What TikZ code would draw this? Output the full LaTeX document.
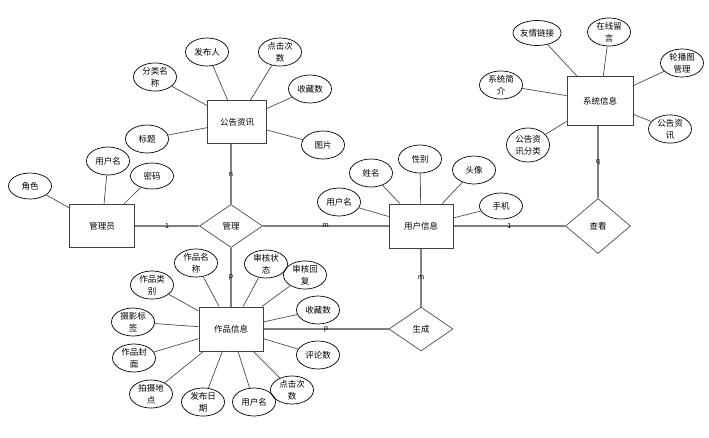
\documentclass[tikz,border=0pt]{standalone}
\usepackage{fontspec}
\setmainfont{Noto Sans CJK SC}
\usetikzlibrary{shapes.geometric}

\begin{document}
\begin{tikzpicture}[x=1pt, y=-1pt,
  every node/.style={inner sep=0pt, font=\fontsize{8.5}{12}\selectfont, align=center},
  entity/.style={draw=black!75, line width=1pt, minimum width=64pt, minimum height=44pt},
  rel/.style={diamond, draw=black!70, line width=0.7pt, minimum width=64pt, minimum height=44pt},
  attr/.style={ellipse, draw=black, line width=0.7pt, minimum width=43pt, minimum height=28pt},
  link/.style={draw=black!50, line width=1.4pt},
  att/.style={draw=black!70, line width=0.7pt},
  card/.style={font=\fontsize{7}{8}\selectfont}]
\useasboundingbox (0,0) rectangle (709,437);

% entities and relations
\node[entity, minimum width=65pt, minimum height=43pt] (admin) at (102,226) {管理员};
\node[entity, minimum width=59pt, minimum height=43pt] (notice) at (237,122) {公告资讯};
\node[entity, minimum width=66pt, minimum height=49pt] (sysinfo) at (600,101) {系统信息};
\node[entity] (user) at (421,226) {用户信息};
\node[entity] (works) at (231,329) {作品信息};
\node[rel, minimum width=63pt, minimum height=43pt] (manage) at (231,226) {管理};
\node[rel, minimum width=65pt, minimum height=55pt] (view) at (598,226) {查看};
\node[rel] (gen) at (421,329) {生成};

\draw[link] (admin) -- node[midway, card] {1} (manage);
\draw[link] (manage) -- node[midway, card] {m} (user);
\draw[link] (manage.north) -- node[midway, card] {n} (manage.north |- notice.south);
\draw[link] (manage) -- node[midway, card] {p} (works);
\draw[link] (works) -- node[midway, card] {p} (gen);
\draw[link] (user) -- node[midway, card] {m} (gen);
\draw[link] (user) -- node[midway, card] {1} (view);
\draw[link] (view.north) -- node[midway, card] {q} (view.north |- sysinfo.south);

% 管理员
\node[attr, minimum height=26pt] (ad1) at (30,186) {角色};
\node[attr] (ad2) at (108,161) {用户名};
\node[attr, minimum height=26pt] (ad3) at (152,176) {密码};
\foreach \a in {ad1,ad2,ad3} \draw[att] (admin) -- (\a);

% 公告资讯
\node[attr] (no1) at (155,77) {分类名\\称};
\node[attr] (no2) at (207,52) {发布人};
\node[attr] (no3) at (280,52) {点击次\\数};
\node[attr] (no4) at (310,89) {收藏数};
\node[attr] (no5) at (323,145) {图片};
\node[attr] (no6) at (147,139) {标题};
\foreach \a in {no1,no2,no3,no4,no5,no6} \draw[att] (notice) -- (\a);

% 系统信息
\node[attr, minimum width=41pt, minimum height=25pt] (sy1) at (537,33) {友情链接};
\node[attr] (sy2) at (609,32) {在线留\\言};
\node[attr] (sy3) at (682,63) {轮播图\\管理};
\node[attr] (sy4) at (501,85) {系统简\\介};
\node[attr] (sy5) at (670,129) {公告资\\讯};
\node[attr, minimum height=34pt] (sy6) at (528,145) {公告资\\讯分类};
\foreach \a in {sy1,sy2,sy3,sy4,sy5,sy6} \draw[att] (sysinfo) -- (\a);

% 用户信息
\node[attr] (us1) at (339,202) {用户名};
\node[attr] (us2) at (371,173) {姓名};
\node[attr] (us3) at (420,159) {性别};
\node[attr] (us4) at (474,170) {头像};
\node[attr, minimum height=26pt] (us5) at (501,206) {手机};
\foreach \a in {us1,us2,us3,us4,us5} \draw[att] (user) -- (\a);

% 作品信息
\node[attr] (wk1) at (196,263) {作品名\\称};
\node[attr] (wk2) at (266,264) {审核状\\态};
\node[attr] (wk3) at (305,275) {审核回\\复};
\node[attr] (wk4) at (318,310) {收藏数};
\node[attr] (wk5) at (318,355) {评论数};
\node[attr] (wk6) at (292,390) {点击次\\数};
\node[attr] (wk7) at (254,402) {用户名};
\node[attr] (wk8) at (203,402) {发布日\\期};
\node[attr] (wk9) at (151,394) {拍摄地\\点};
\node[attr] (wk10) at (134,358) {作品封\\面};
\node[attr] (wk11) at (133,322) {摄影标\\签};
\node[attr] (wk12) at (152,285) {作品类\\别};
\foreach \a in {wk1,wk2,wk3,wk4,wk5,wk6,wk7,wk8,wk9,wk10,wk11,wk12} \draw[att] (works) -- (\a);
\end{tikzpicture}
\end{document}
